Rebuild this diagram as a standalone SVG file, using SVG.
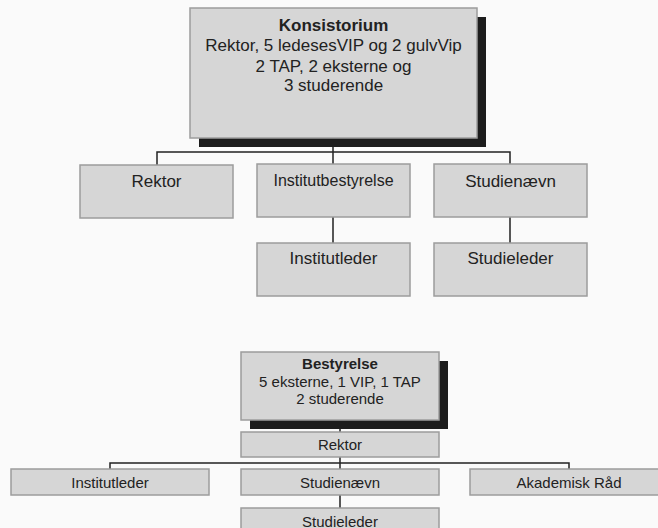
<svg xmlns="http://www.w3.org/2000/svg" width="658" height="528" viewBox="0 0 658 528">
<style>
.box{fill:#d6d6d6;stroke:#9c9c9c;stroke-width:1.5}
.shadow{fill:#1c1c1c}
.t{font-family:"Liberation Sans",Arial,sans-serif;fill:#222;text-anchor:middle}
.b{font-weight:bold}
.f17{font-size:17px}
.f16{font-size:16px}
.f15{font-size:15px}
.conn{fill:none;stroke:#222;stroke-width:1.5}
</style>
<rect x="0" y="0" width="658" height="528" fill="#fafafa"/>
<g id="connectors">
<path class="conn" d="M333 147V152M157 165V152H510V164M333 152V164M333 217V243M510 217V243"/>
<path class="conn" d="M340 428V432M340 457V469M110 469V463H569V469M340 495V508"/>
</g>
<g id="konsistorium">
<rect class="shadow" x="199" y="17" width="287" height="130"/>
<rect class="box" x="190" y="8" width="287" height="130"/>
<text class="t f17 b" x="333.5" y="31">Konsistorium</text>
<text class="t f17" x="333.5" y="51">Rektor, 5 ledesesVIP og 2 gulvVip</text>
<text class="t f17" x="333.5" y="72">2 TAP, 2 eksterne og</text>
<text class="t f17" x="333.5" y="91">3 studerende</text>
</g>
<g id="rektor1">
<rect class="box" x="80" y="165" width="153" height="53"/>
<text class="t f17" x="156.5" y="187">Rektor</text>
</g>
<g id="institutbestyrelse">
<rect class="box" x="257" y="164" width="153" height="53"/>
<text class="t f16" x="333.5" y="186">Institutbestyrelse</text>
</g>
<g id="studienaevn1">
<rect class="box" x="434" y="164" width="153" height="53"/>
<text class="t f17" x="510.5" y="187">Studienævn</text>
</g>
<g id="institutleder1">
<rect class="box" x="257" y="243" width="153" height="53"/>
<text class="t f17" x="333.5" y="264">Institutleder</text>
</g>
<g id="studieleder1">
<rect class="box" x="434" y="243" width="153" height="53"/>
<text class="t f17" x="510.5" y="264">Studieleder</text>
</g>
<g id="bestyrelse">
<rect class="shadow" x="250" y="361" width="198" height="68"/>
<rect class="box" x="241" y="352" width="198" height="68"/>
<text class="t f15 b" x="340" y="369">Bestyrelse</text>
<text class="t f15" x="340" y="387">5 eksterne, 1 VIP, 1 TAP</text>
<text class="t f15" x="340" y="404">2 studerende</text>
</g>
<g id="rektor2">
<rect class="box" x="241" y="432" width="198" height="25"/>
<text class="t f15" x="340" y="450">Rektor</text>
</g>
<g id="institutleder2">
<rect class="box" x="11" y="469" width="198" height="26"/>
<text class="t f15" x="110" y="487.5">Institutleder</text>
</g>
<g id="studienaevn2">
<rect class="box" x="241" y="469" width="198" height="26"/>
<text class="t f15" x="340" y="487.5">Studienævn</text>
</g>
<g id="akademisk">
<rect class="box" x="470" y="469" width="198" height="26"/>
<text class="t f15" x="569" y="487.5">Akademisk Råd</text>
</g>
<g id="studieleder2">
<rect class="box" x="241" y="508" width="198" height="26"/>
<text class="t f15" x="340" y="526.5">Studieleder</text>
</g>
</svg>
